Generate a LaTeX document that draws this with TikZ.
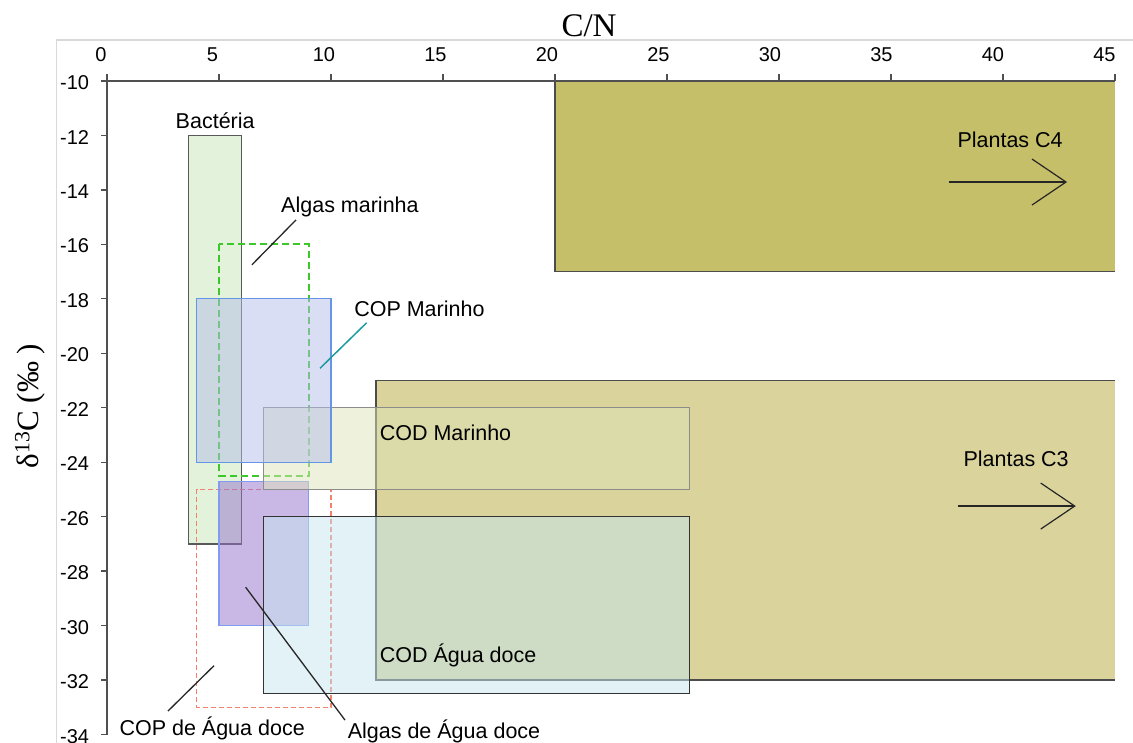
\documentclass[tikz,border=0pt]{standalone}
\usepackage{fontspec}
\setmainfont{Liberation Serif}
\setsansfont{Liberation Sans}
\usetikzlibrary{arrows.meta}
\definecolor{cfour}{RGB}{197,191,106}
\definecolor{cthree}{RGB}{218,212,156}
\definecolor{bact}{RGB}{199,229,181}
\definecolor{copm}{RGB}{179,189,233}
\definecolor{codm}{RGB}{221,227,185}
\definecolor{algd}{RGB}{147,113,205}
\definecolor{codd}{RGB}{197,229,239}
\definecolor{greendash}{RGB}{60,200,40}
\definecolor{reddash}{RGB}{244,128,110}
\definecolor{tealline}{RGB}{27,154,159}
\definecolor{axisgray}{RGB}{80,80,80}
\definecolor{framegray}{RGB}{217,217,217}
\definecolor{copmborder}{RGB}{100,150,232}
\definecolor{algdborder}{RGB}{130,155,240}
\begin{document}
\begin{tikzpicture}[x=22.4pt,y=27.23pt,
  lbl/.style={font=\sffamily\fontsize{21.5}{25}\selectfont, inner sep=0pt, anchor=base west},
  ticklbl/.style={font=\sffamily\fontsize{20}{24}\selectfont, inner sep=0pt},
  axisline/.style={draw=axisgray, line width=1.3pt},
  plantedge/.style={draw=black!70, line width=1.5pt},
  region/.style={fill opacity=0.5, line width=1.2pt},
  leader/.style={draw=black!85, line width=1.3pt},
  plarrow/.style={draw=black!85, line width=1.4pt, -{Straight Barb[length=34pt,width=46pt,line width=1.2pt]}},
  dashgreen/.style={draw=greendash, line width=1.8pt, dash pattern=on 7pt off 4pt},
  dashred/.style={draw=reddash, line width=1.2pt, dash pattern=on 5pt off 3pt}]
\useasboundingbox ({-107/22.4},{-10+81/27.23}) rectangle ({(1133-107)/22.4},{-10-(743-81)/27.23});
% outer frame
\draw[framegray, line width=1.5pt] (-2.254,-34.4) -- (-2.254,-8.4943) -- (46,-8.4943);
% plant regions
\fill[cfour] (20,-10) rectangle (45,-17);
\draw[plantedge] (20,-10) -- (20,-17) -- (45,-17);
\fill[cthree] (12,-21) rectangle (45,-32);
\draw[plantedge] (45,-21) -- (12,-21) -- (12,-32) -- (45,-32);
% bacteria
\filldraw[region, fill=bact, draw=black!65] (3.65,-12) rectangle (6,-27);
% dashed regions
\draw[dashgreen] (5,-16) rectangle (9,-24.5);
\draw[dashred] (4,-25) rectangle (10,-33);
% algas de agua doce
\filldraw[region, fill=algd, draw=algdborder] (5,-24.7) rectangle (9,-30);
% COD marinho
\filldraw[region, fill=codm, draw=black!45] (7,-22) rectangle (26,-25);
% COP marinho
\filldraw[region, fill=copm, draw=copmborder] (4,-18) rectangle (10,-24);
% COD agua doce
\filldraw[region, fill=codd, draw=black!80] (7,-26) rectangle (26,-32.5);
% axes
\draw[axisline] (0,-10) -- (45,-10);
\draw[axisline] (0,-10) -- (0,-34);
\foreach \x in {0,5,...,45} {
  \draw[axisline] (\x,-10) -- ++(0,6.5pt);
  \node[ticklbl] (xt\x) at ({0.9955*\x-0.27},-9.045) {\x};
}
\foreach \y in {10,12,...,34} {
  \draw[axisline] (0,-\y) -- ++(-6pt,0);
  \node[ticklbl, anchor=east] (yt\y) at (-0.79,{-\y-0.06}) {-\y};
}
% axis titles
\node[font=\fontsize{33}{36}\selectfont, inner sep=0pt] (cn) at (21.52,-7.98) {C/N};
\node[font=\fontsize{31}{34}\selectfont, inner sep=0pt, rotate=90] (d13c) at (-3.44,-21.94) {δ\textsuperscript{13}C (‰ )};
% labels
\node[lbl] (lbact) at (3.06,-11.74) {Bactéria};
\node[lbl] (lalgm) at (7.77,-14.84) {Algas marinha};
\node[lbl] (lcopm) at (11.03,-18.66) {COP Marinho};
\node[lbl] (lcodm) at (12.17,-23.22) {COD Marinho};
\node[lbl] (lcodd) at (12.17,-31.36) {COD Água doce};
\node[lbl] (lc4) at (37.96,-12.45) {Plantas C4};
\node[lbl] (lc3) at (38.23,-24.16) {Plantas C3};
\node[lbl] (lcopd) at (0.55,-34.02) {COP de Água doce};
\node[lbl] (lalgd) at (10.74,-34.14) {Algas de Água doce};
% leader lines
\coordinate (algmA) at (8.44,-15.10);
\coordinate (algmB) at (6.47,-16.75);
\coordinate (copmA) at (11.59,-18.88);
\coordinate (copmB) at (9.51,-20.55);
\coordinate (copdA) at (2.72,-33.14);
\coordinate (copdB) at (4.78,-31.47);
\coordinate (algdA) at (6.19,-28.59);
\coordinate (algdB) at (10.625,-33.47);
\draw[leader] (algmA) -- (algmB);
\draw[leader, draw=tealline, line width=1.5pt] (copmA) -- (copmB);
\draw[leader] (copdA) -- (copdB);
\draw[leader] (algdA) -- (algdB);
% plant arrows
\coordinate (c4A) at (37.59,-13.71);
\coordinate (c4B) at (42.86,-13.71);
\coordinate (c3A) at (38.0,-25.61);
\coordinate (c3B) at (43.25,-25.61);
\draw[plarrow] (c4A) -- (c4B);
\draw[plarrow] (c3A) -- (c3B);
\end{tikzpicture}
\end{document}
